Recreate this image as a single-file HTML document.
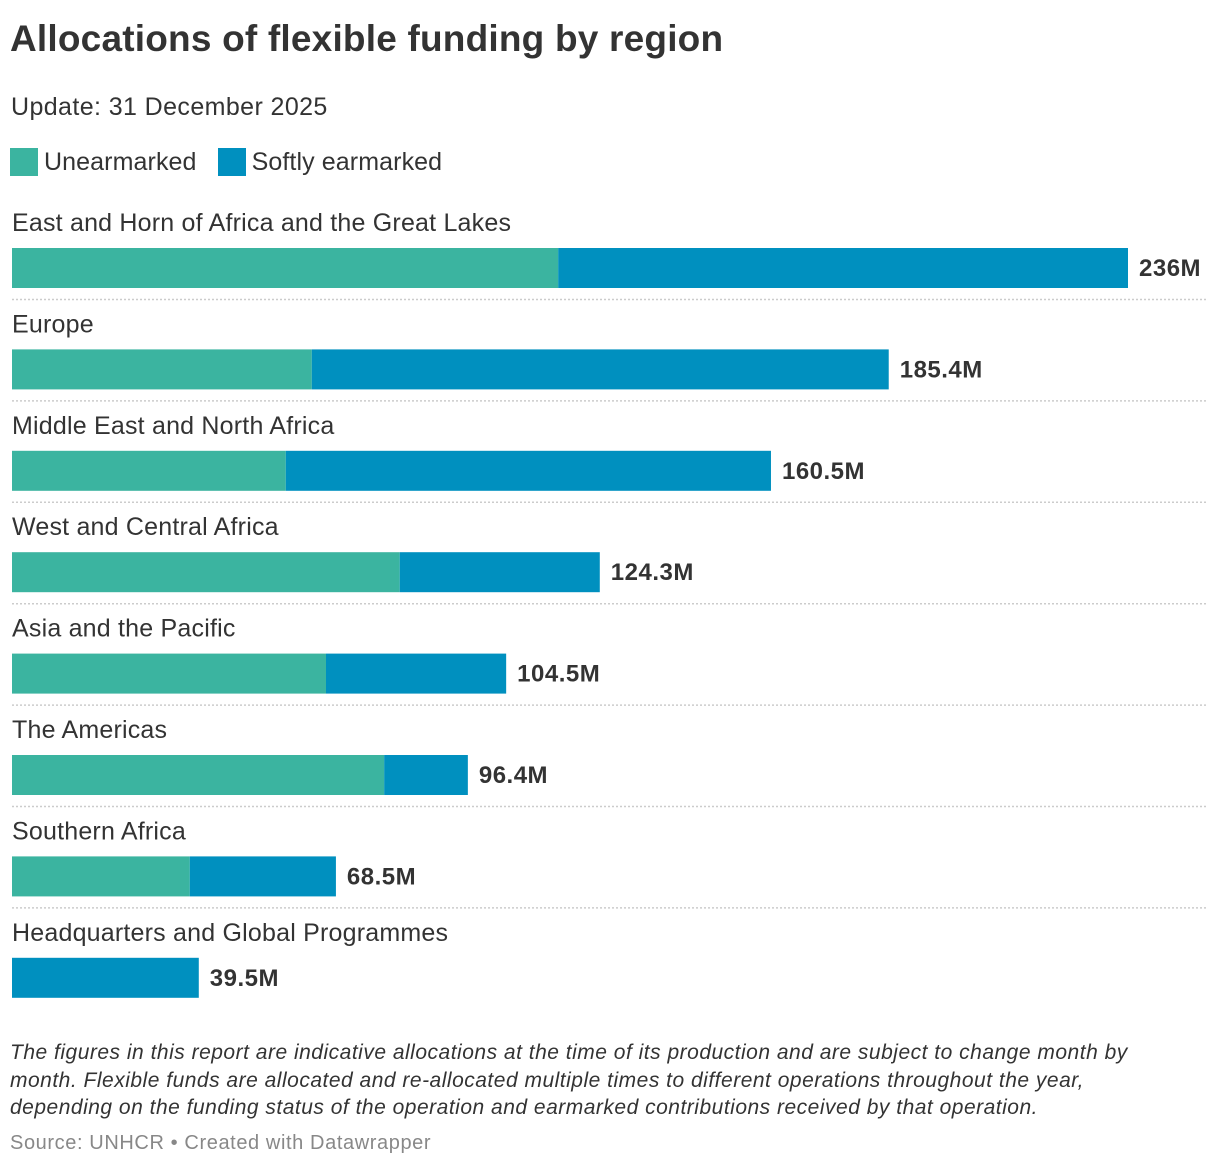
<!DOCTYPE html>
<html><head><meta charset="utf-8"><style>
body{margin:0;width:1220px;height:1168px;background:#fff;font-family:"Liberation Sans",sans-serif;color:#333;position:relative;overflow:hidden}
.abs{position:absolute;white-space:nowrap}
</style></head><body>
<div class="abs" style="left:10px;top:18px;font-size:37px;font-weight:bold;color:#333;letter-spacing:0.2px">Allocations of flexible funding by region</div>
<div class="abs" style="left:11px;top:93px;font-size:25px;color:#333;letter-spacing:0.4px">Update: 31 December 2025</div>
<div class="abs" style="left:10px;top:148px;font-size:25px;color:#333;letter-spacing:0.1px">
<span><span style="display:inline-block;width:28px;height:28px;background:#3bb4a0;vertical-align:-6px;margin-right:6px"></span>Unearmarked</span>
<span style="margin-left:14px"><span style="display:inline-block;width:28px;height:28px;background:#0090bf;vertical-align:-6px;margin-right:6px"></span>Softly earmarked</span>
</div>
<svg id="chart" width="1220" height="1010" style="position:absolute;left:0;top:0"></svg>
<div class="abs" style="left:10px;top:1039px;font-size:21px;font-style:italic;line-height:27.5px;color:#333;letter-spacing:0.5px">The figures in this report are indicative allocations at the time of its production and are subject to change month by<br>month. Flexible funds are allocated and re-allocated multiple times to different operations throughout the year,<br>depending on the funding status of the operation and earmarked contributions received by that operation.</div>
<div class="abs" style="left:10px;top:1132px;font-size:20px;color:#888;letter-spacing:0.6px">Source: UNHCR • Created with Datawrapper</div>
<script>
const categories=["East and Horn of Africa and the Great Lakes","Europe","Middle East and North Africa","West and Central Africa","Asia and the Pacific","The Americas","Southern Africa","Headquarters and Global Programmes"];
const unearmarked=[115.5,63.4,57.9,82.0,66.4,78.7,37.6,0];
const totals=[236,185.4,160.5,124.3,104.5,96.4,68.5,39.5];
const valueLabels=["236M","185.4M","160.5M","124.3M","104.5M","96.4M","68.5M","39.5M"];
const svg=document.getElementById('chart');
const NS="http://www.w3.org/2000/svg";
const x0=12,xMax=236,xW=1116;
const xs=v=>v/xMax*xW;
const rowTop=i=>205+i*101.4;
function mk(t,a){const e=document.createElementNS(NS,t);for(const k in a)e.setAttribute(k,a[k]);svg.appendChild(e);return e;}
categories.forEach((c,i)=>{
 const y=rowTop(i);
 const lab=mk('text',{x:12,y:y+26,'font-size':25,'letter-spacing':0.2,fill:'#333','font-family':'Liberation Sans, sans-serif'});
 lab.textContent=c;
 
 
 const by=y+43;
 const u=mk('rect',{x:x0,y:by,width:xs(unearmarked[i]),height:40,fill:'#3bb4a0'});
 
 
 const s=mk('rect',{x:x0+xs(unearmarked[i]),y:by,width:xs(totals[i]-unearmarked[i]),height:40,fill:'#0090bf'});
 
 
 const v=mk('text',{x:x0+xs(totals[i])+11,y:by+28,'font-size':24,'font-weight':'bold','letter-spacing':0.5,fill:'#333','font-family':'Liberation Sans, sans-serif'});
 v.textContent=valueLabels[i];
 
 
 if(i<categories.length-1){
  const l=mk('line',{x1:12,x2:1208,y1:by+51.5,y2:by+51.5,stroke:'#ccc','stroke-width':1.5,'stroke-dasharray':'2,2'});
  
  
 }
});
</script>
</body></html>
